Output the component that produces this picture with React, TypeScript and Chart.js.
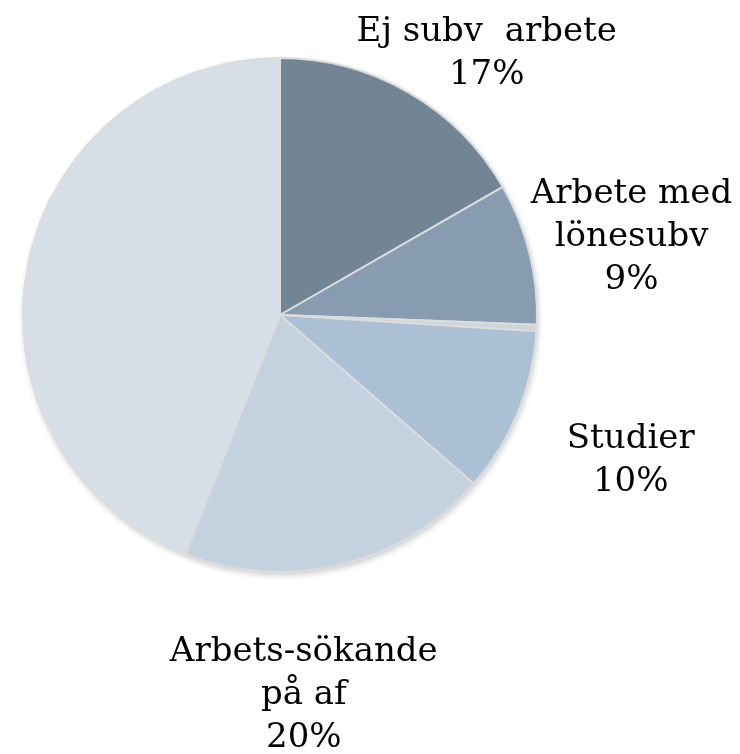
import React, { useEffect, useRef } from "react";
import { Chart, registerables } from "chart.js";

Chart.register(...registerables);

const categories = ["Ej subv  arbete", "Arbete med lönesubv", "Övrigt", "Studier", "Arbets-sökande på af", "Annat"];
const values = [16.7, 8.9, 0.4, 10.4, 19.6, 44.0];
const labelLines = [
  ["Ej subv  arbete", "17%"],
  ["Arbete med", "lönesubv", "9%"],
  [],
  ["Studier", "10%"],
  ["Arbets-sökande", "på af", "20%"],
  [],
];
const colors = ["#718595", "#879cb0", "#cfd4da", "#abc0d4", "#c4d1de", "#d6dee8"];

// label placement offsets (px) relative to the slice's outer-edge midpoint
const labelOffsets: [number, number][] = [
  [78, -30],
  [102, -7],
  [0, 0],
  [113, 57],
  [-37, 139],
  [0, 0],
];

const labelPlugin = {
  id: "outerLabels",
  afterDraw(chart: any) {
    const ctx = chart.ctx;
    const meta = chart.getDatasetMeta(0);
    ctx.save();
    ctx.fillStyle = "#000000";
    ctx.font = '34px "DejaVu Serif"';
    ctx.textAlign = "center";
    ctx.textBaseline = "alphabetic";
    const lh = 43;
    meta.data.forEach((arc: any, i: number) => {
      const lines = labelLines[i];
      if (!lines || lines.length === 0) return;
      const p = arc.getProps(["x", "y", "startAngle", "endAngle", "outerRadius"], true);
      const mid = (p.startAngle + p.endAngle) / 2;
      const ex = p.x + Math.cos(mid) * p.outerRadius;
      const ey = p.y + Math.sin(mid) * p.outerRadius;
      const cx = ex + labelOffsets[i][0];
      const cy = ey + labelOffsets[i][1];
      const first = cy - ((lines.length - 1) * lh) / 2;
      lines.forEach((t, k) => ctx.fillText(t, cx, first + k * lh));
    });
    ctx.restore();
  },
};

const shadowPlugin = {
  id: "pieShadow",
  beforeDatasetsDraw(chart: any) {
    const ctx = chart.ctx;
    const arc = chart.getDatasetMeta(0).data[0];
    if (!arc) return;
    const p = arc.getProps(["x", "y", "outerRadius"], true);
    ctx.save();
    ctx.shadowColor = "rgba(0,0,0,0.22)";
    ctx.shadowBlur = 6;
    ctx.shadowOffsetX = 1;
    ctx.shadowOffsetY = 3;
    ctx.fillStyle = "#dcdcdc";
    ctx.beginPath();
    ctx.arc(p.x, p.y, p.outerRadius, 0, Math.PI * 2);
    ctx.fill();
    ctx.restore();
  },
};

export default function App() {
  const ref = useRef<HTMLCanvasElement | null>(null);
  useEffect(() => {
    if (!ref.current) return;
    const chart = new Chart(ref.current, {
      type: "pie",
      data: {
        labels: categories,
        datasets: [
          {
            data: values,
            backgroundColor: colors,
            borderColor: "#dcdcdc",
            borderWidth: 2,
          },
        ],
      },
      options: {
        animation: false,
        responsive: false,
        maintainAspectRatio: false,
        layout: { padding: { left: 22, right: 202, top: 57, bottom: 181 } },
        plugins: {
          legend: { display: false },
          tooltip: { enabled: false },
        },
      },
      plugins: [shadowPlugin, labelPlugin],
    });
    return () => chart.destroy();
  }, []);
  return (
    <div style={{ position: "fixed", left: 0, top: 0, width: 740, height: 754, background: "#ffffff" }}>
      <canvas ref={ref} width={740} height={754} style={{ width: 740, height: 754 }} />
    </div>
  );
}
